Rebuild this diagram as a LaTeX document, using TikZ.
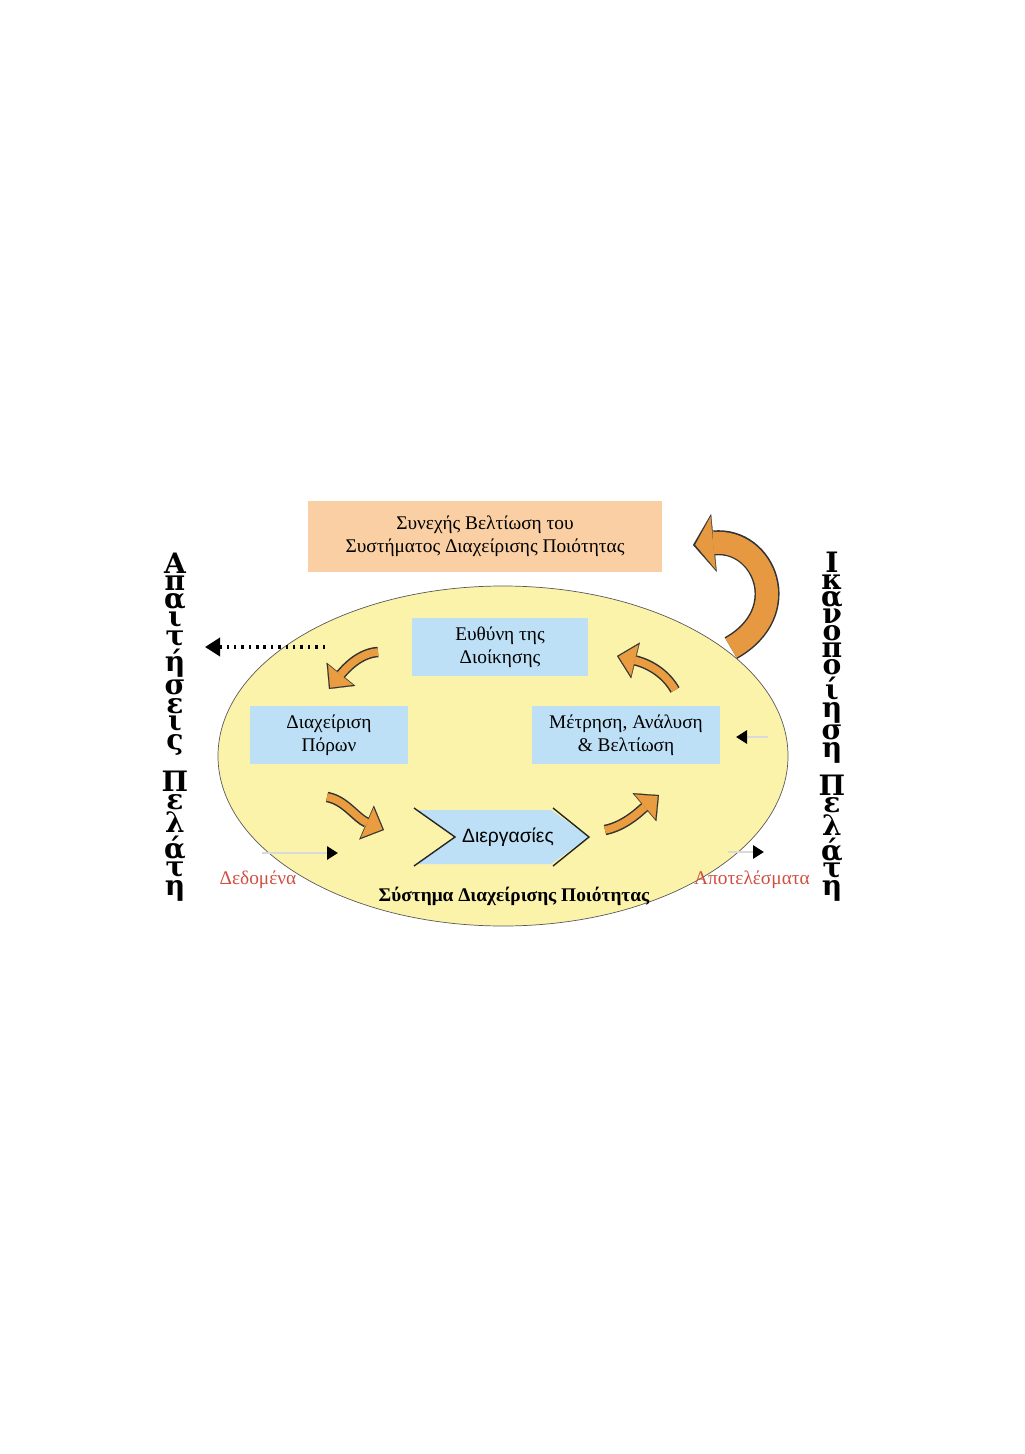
\documentclass[tikz,border=0pt]{standalone}
\usepackage{fontspec}
\setmainfont{Liberation Serif}
\newfontfamily\grsans{Liberation Sans}
\newfontfamily\vertfont{DejaVu Serif}
\usetikzlibrary{arrows.meta,positioning,shapes.geometric}

\definecolor{peach}{RGB}{249,207,163}
\definecolor{paleblue}{RGB}{189,224,246}
\definecolor{paleyellow}{RGB}{252,243,170}
\definecolor{arrowfill}{RGB}{234,156,64}
\definecolor{datared}{RGB}{208,78,64}

\begin{document}
\begin{tikzpicture}[x=0.2mm, y=-0.2mm,
  font=\fontsize{11}{13}\selectfont,
  topbox/.style={rectangle, fill=peach, minimum width=70.8mm, minimum height=14.2mm, align=center, inner sep=0pt},
  bluebox/.style={rectangle, fill=paleblue, minimum height=11.7mm, align=center, inner sep=0pt},
  looparrow/.style={line width=1.5mm, draw=arrowfill, -{Triangle[length=3.3mm, width=6.4mm, line width=0.1pt]},
    shorten >=0.35mm, preaction={draw=black!80, line width=2.1mm, shorten >=0pt, -{Triangle[length=3.8mm, width=7.4mm, line width=0.1pt]}}},
  bigarrow/.style={line width=4.4mm, draw=arrowfill!90!brown, -{Triangle[length=3.6mm, width=10.6mm, line width=0.1pt]},
    shorten >=0.45mm, preaction={draw=black!80, line width=5mm, shorten >=0pt, -{Triangle[length=4.2mm, width=11.6mm, line width=0.1pt]}}},
  fadearrow/.style={draw=black!15, line width=1.6pt, -{Triangle[length=2.2mm, width=2.6mm, color=black]}},
  vert/.style={align=center, inner sep=0pt},
  lbl/.style={text=datared, font=\fontsize{11}{13}\selectfont}
]
  \useasboundingbox (0,0) rectangle (1024,1454);

  \node[topbox] (improve) at (485,536) {Συνεχής Βελτίωση του\\Συστήματος Διαχείρισης Ποιότητας};

  \node[ellipse, draw=black!65, fill=paleyellow, minimum width=114mm, minimum height=68mm] (qms) at (503,756) {};

  \node[bluebox, minimum width=35.2mm] (resp) at (500,647) {Ευθύνη της\\Διοίκησης};
  \node[bluebox, minimum width=31.6mm] (resources) at (329,735) {Διαχείριση\\Πόρων};
  \node[bluebox, minimum width=37.6mm] (measure) at (626,735) {Μέτρηση, Ανάλυση\\\& Βελτίωση};

  % chevron of the processes
  \fill[paleblue] (416,810) -- (551,810) -- (589,837) -- (551,864) -- (416,864) -- (455,837) -- cycle;
  \draw[black!85, thick] (414,808) -- (455,837) -- (414,866);
  \draw[black!85, thick] (553,808) -- (589,837) -- (553,866);
  \node[font=\grsans\fontsize{11}{13}\selectfont] (process) at (508,837) {Διεργασίες};

  \node[font=\bfseries\fontsize{11}{13}\selectfont] (qmstitle) at (514,896) {Σύστημα Διαχείρισης Ποιότητας};
  \node[lbl] (input) at (258,880) {Δεδομένα};
  \node[lbl] (output) at (752,880) {Αποτελέσματα};

  \node[vert, font={\vertfont\bfseries\fontsize{16}{8}\selectfont\lineskip 1.6pt\relax}]
    (demands) at (175,727) {Α\\π\\α\\ι\\τ\\ή\\σ\\ε\\ι\\ς\\[7pt]Π\\ε\\λ\\ά\\τ\\η};
  \node[vert, font={\vertfont\bfseries\fontsize{16}{8}\selectfont\lineskip 1.1pt\relax}]
    (satisf) at (832,727) {Ι\\κ\\α\\ν\\ο\\π\\ο\\ί\\η\\σ\\η\\[6pt]Π\\ε\\λ\\ά\\τ\\η};

  % ends of the arrows
  \coordinate (loopa) at (378,652);  \coordinate (loopb) at (329,689);
  \coordinate (loopc) at (327,797);  \coordinate (loopd) at (384,830);
  \coordinate (loope) at (605,830);  \coordinate (loopf) at (659,795);
  \coordinate (loopg) at (675,690);  \coordinate (looph) at (617,656);
  \coordinate (bigs) at (731,648);   \coordinate (bige) at (693,545);
  \coordinate (reqs) at (325,647);   \coordinate (reqe) at (205,647);
  \coordinate (ins) at (262,853);    \coordinate (ine) at (338,853);
  \coordinate (outs) at (728,852);   \coordinate (oute) at (764,852);
  \coordinate (fbs) at (768,737);    \coordinate (fbe) at (736,737);

  \draw[looparrow] (loopa) .. controls (360,653) and (346,668) .. (loopb);
  \draw[looparrow] (loopc) .. controls (345,800) and (356,818) .. (loopd);
  \draw[looparrow] (loope) .. controls (625,826) and (640,811) .. (loopf);
  \draw[looparrow] (loopg) .. controls (666,674) and (650,664) .. (looph);
  \draw[bigarrow] (bigs) .. controls (795,612) and (764,538) .. (bige);

  \draw[line width=2pt, dash pattern=on 1.4pt off 2.8pt, -{Triangle[length=3mm, width=3.6mm]}] (reqs) -- (reqe);
  \draw[fadearrow] (ins) -- (ine);
  \draw[fadearrow] (outs) -- (oute);
  \draw[fadearrow] (fbs) -- (fbe);
\end{tikzpicture}
\end{document}
